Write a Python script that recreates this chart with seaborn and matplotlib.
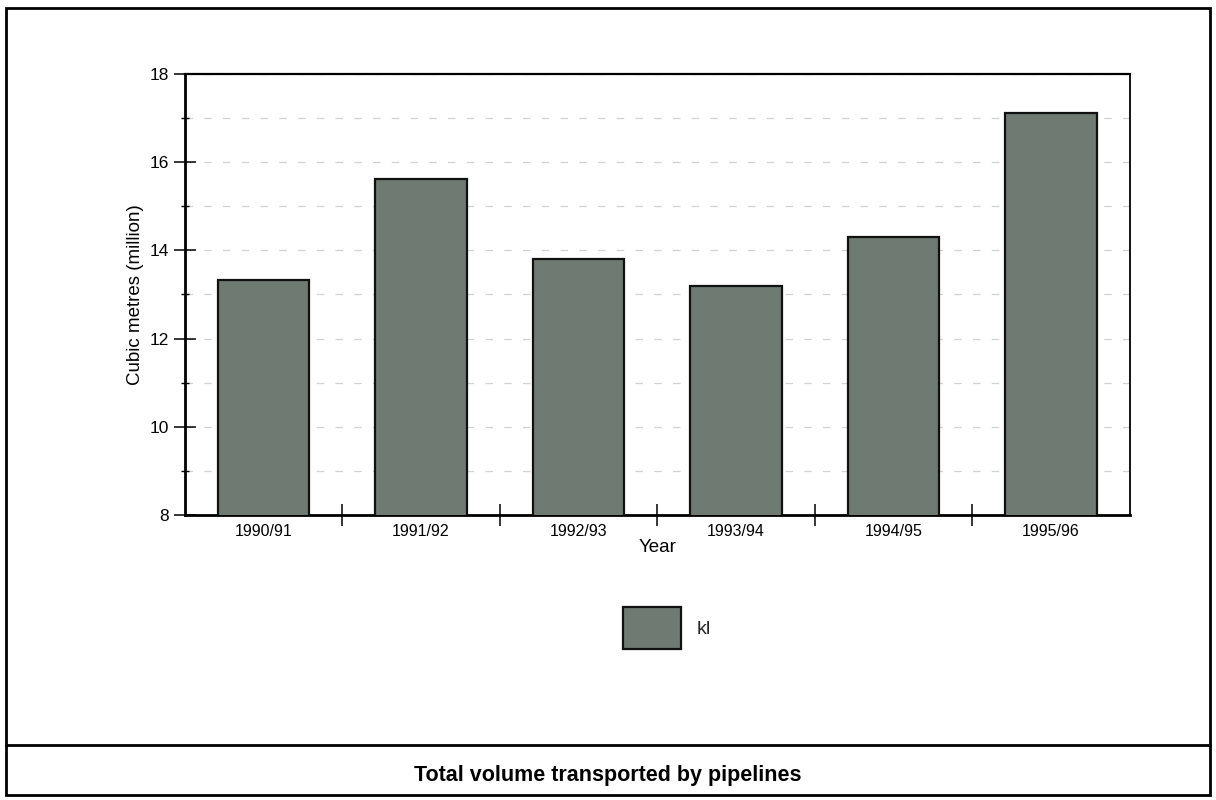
import matplotlib
matplotlib.use("Agg")
import matplotlib.pyplot as plt
import seaborn as sns
import pandas as pd
import numpy as np
from matplotlib.patches import Rectangle
from matplotlib.lines import Line2D

years = ['1990/91', '1991/92', '1992/93', '1993/94', '1994/95', '1995/96']
volume = [13.33, 15.62, 13.8, 13.2, 14.3, 17.1]
series = ['kl'] * len(years)
bar_color = '#6f7a73'

df = pd.DataFrame({'Year': years, 'volume': volume, 'series': series})

sns.set_theme(style='white')
plt.rcParams['font.family'] = ['Liberation Sans', 'DejaVu Sans']

fig = plt.figure(figsize=(12.16, 8), dpi=100)
ax = fig.add_axes([0.152, 0.356, 0.777, 0.552])

sns.barplot(data=df, x='Year', y='volume', hue='series', palette=[bar_color],
            width=0.58, edgecolor='#111111', linewidth=1.6, saturation=1, ax=ax, zorder=3)

ax.set_ylim(8, 18)
ax.set_xlim(-0.5, len(years) - 0.5)
ax.set_yticks(np.arange(8, 19, 2))
ax.set_yticks(np.arange(9, 18, 2), minor=True)
ax.yaxis.grid(True, which='both', color='#d2d2d2', linestyle=(0, (6, 9)), linewidth=0.9)
ax.set_axisbelow(True)

# category ticks between bars
ax.set_xticks(np.arange(0.5, len(years) - 0.5, 1), minor=True)
ax.tick_params(axis='x', which='major', length=0, labelsize=11.5, pad=6, colors='black', bottom=True)
ax.tick_params(axis='x', which='minor', length=16, width=1.1, direction='inout', color='black', bottom=True)
ax.tick_params(axis='y', which='major', length=16, width=1.1, direction='inout', labelsize=12.5, colors='black', left=True)
ax.tick_params(axis='y', which='minor', length=6, width=1, direction='inout', color='black', left=True)

for s in ax.spines.values():
    s.set_color('black')
ax.spines['left'].set_linewidth(2)
ax.spines['bottom'].set_linewidth(2)
ax.spines['top'].set_linewidth(1.6)
ax.spines['right'].set_linewidth(1.3)

ax.set_xlabel('Year', fontsize=13.5, labelpad=0, color='black')
ax.set_ylabel('Cubic metres (million)', fontsize=13.5, labelpad=4, color='black')

ax.legend(loc='center', bbox_to_anchor=(0.51, -0.255), frameon=False,
          fontsize=14, handlelength=3.0, handleheight=2.9, handletextpad=0.8)

# frame and caption box
fig.patches.append(Rectangle((0.005, 0.006), 0.99, 0.984, transform=fig.transFigure,
                             fill=False, edgecolor='black', linewidth=2))
fig.lines.append(Line2D([0.005, 0.995], [0.069, 0.069], transform=fig.transFigure,
                        color='black', linewidth=2))
fig.text(0.5, 0.031, 'Total volume transported by pipelines', ha='center', va='center',
         fontsize=15.5, fontweight='bold', color='black')

plt.savefig('out.png', dpi=100)
